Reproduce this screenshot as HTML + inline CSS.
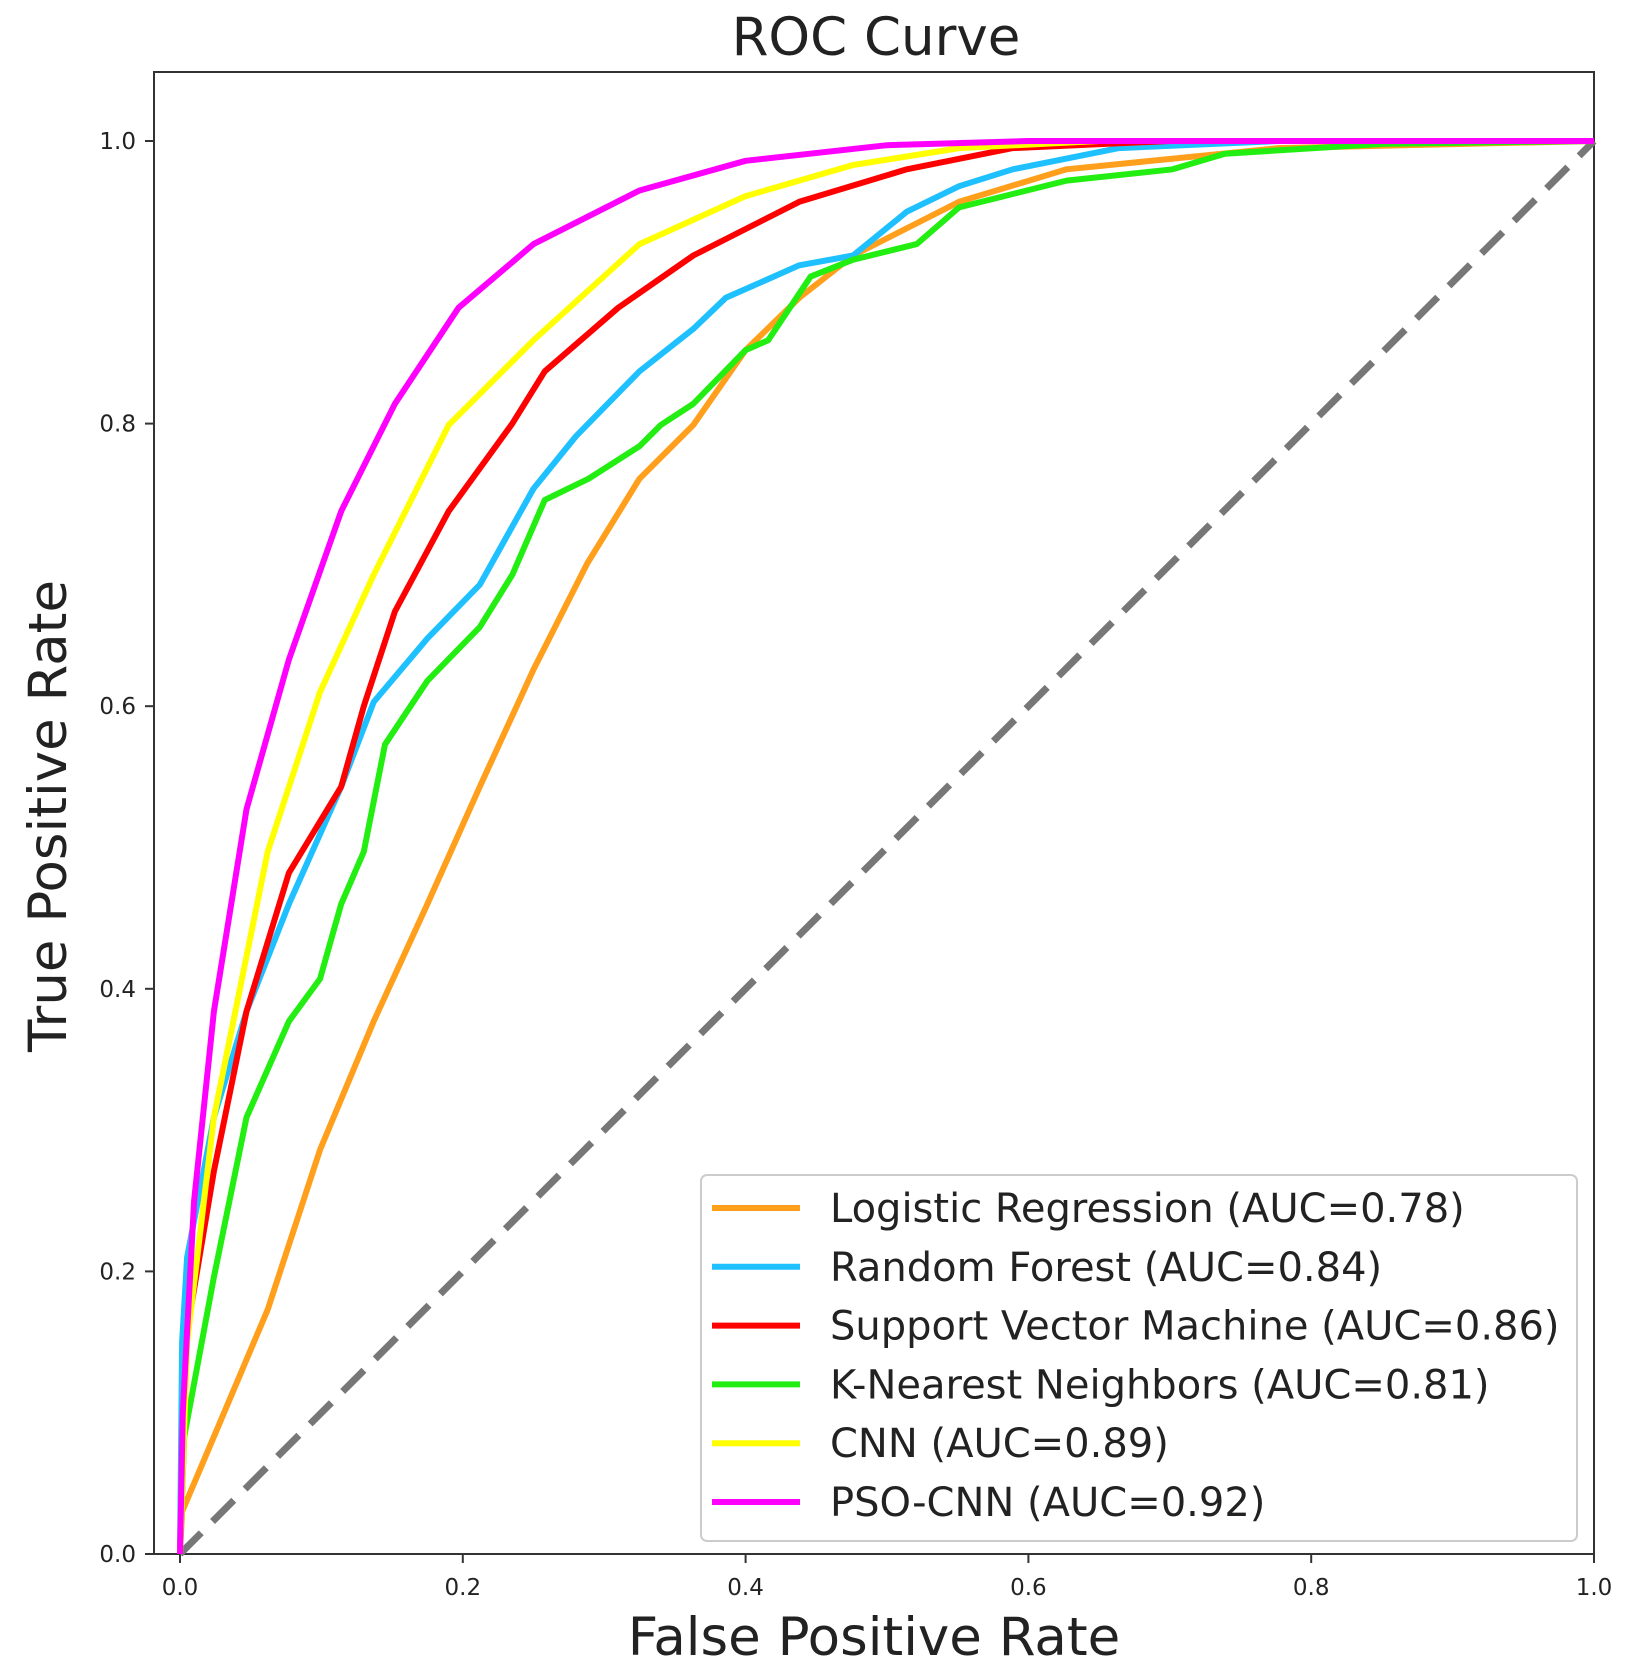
<!DOCTYPE html>
<html><head><meta charset="utf-8"><style>
body{margin:0;background:#fff}
svg text{font-family:"DejaVu Sans","Liberation Sans",sans-serif;fill:#222}
</style></head><body>
<svg id="chart" width="1635" height="1670" viewBox="0 0 1635 1670" xmlns="http://www.w3.org/2000/svg">
<rect width="1635" height="1670" fill="#fff"/>
<text x="876" y="55" font-size="53" text-anchor="middle">ROC Curve</text>
<rect x="154" y="72" width="1440" height="1482" fill="none" stroke="#333" stroke-width="2"/>
<g id="ticks"></g>
<line x1="180" y1="1554" x2="1594" y2="141" stroke="#777" stroke-width="7" stroke-dasharray="30,16"/>
<g id="series"></g>
<text x="874" y="1655" font-size="53" text-anchor="middle">False Positive Rate</text>
<text transform="translate(66,816) rotate(-90)" font-size="53" text-anchor="middle">True Positive Rate</text>
<g id="legend">
<rect x="701" y="1175" width="876" height="366" rx="6" fill="#fff" fill-opacity="0.85" stroke="#ccc" stroke-width="2"/>
</g>
</svg>
<script>
const tickValues=[0,0.2,0.4,0.6,0.8,1.0];
const tickLabels=["0.0","0.2","0.4","0.6","0.8","1.0"];
const seriesNames=["Logistic Regression (AUC=0.78)","Random Forest (AUC=0.84)","Support Vector Machine (AUC=0.86)","K-Nearest Neighbors (AUC=0.81)","CNN (AUC=0.89)","PSO-CNN (AUC=0.92)"];
const seriesColors=["#ff9f1c","#1ec0ff","#ff0000","#22ee11","#ffff00","#ff00ff"];
const lrFpr=[0,0.0015,0.024,0.062,0.099,0.137,0.175,0.212,0.25,0.288,0.325,0.363,0.4,0.438,0.476,0.551,0.627,0.777,1];
const lrTpr=[0,0.03,0.083,0.173,0.286,0.377,0.46,0.543,0.626,0.701,0.761,0.799,0.852,0.889,0.919,0.957,0.98,0.995,1];
const rfFpr=[0,0.0015,0.005,0.024,0.047,0.077,0.114,0.137,0.175,0.212,0.25,0.28,0.325,0.363,0.386,0.438,0.476,0.514,0.551,0.589,0.664,0.777,1];
const rfTpr=[0,0.15,0.21,0.309,0.384,0.46,0.543,0.603,0.648,0.686,0.754,0.791,0.837,0.867,0.889,0.912,0.919,0.95,0.968,0.98,0.995,1,1];
const svmFpr=[0,0.005,0.024,0.047,0.077,0.114,0.13,0.152,0.19,0.235,0.258,0.31,0.363,0.438,0.514,0.589,0.7,1];
const svmTpr=[0,0.158,0.271,0.384,0.482,0.543,0.6,0.667,0.738,0.8,0.837,0.882,0.919,0.957,0.98,0.995,1,1];
const knnFpr=[0,0.003,0.024,0.047,0.077,0.099,0.114,0.13,0.145,0.175,0.212,0.235,0.258,0.289,0.325,0.34,0.363,0.4,0.416,0.446,0.476,0.521,0.551,0.627,0.702,0.739,0.852,1];
const knnTpr=[0,0.083,0.196,0.309,0.377,0.407,0.46,0.497,0.573,0.618,0.656,0.693,0.746,0.761,0.784,0.799,0.814,0.852,0.859,0.904,0.916,0.927,0.953,0.972,0.98,0.991,0.998,1];
const cnnFpr=[0,0.005,0.024,0.062,0.099,0.137,0.19,0.25,0.325,0.4,0.476,0.551,0.65,1];
const cnnTpr=[0,0.15,0.309,0.497,0.61,0.693,0.799,0.859,0.927,0.961,0.983,0.995,1,1];
const psoFpr=[0,0.002,0.01,0.024,0.047,0.077,0.114,0.152,0.197,0.25,0.325,0.4,0.5,0.6,1];
const psoTpr=[0,0.1,0.25,0.384,0.527,0.633,0.738,0.814,0.882,0.927,0.965,0.986,0.997,1,1];

const NS="http://www.w3.org/2000/svg";
const xs=v=>180+v*1414, ys=v=>1554-v*1413;
const ticks=document.getElementById('ticks');
tickValues.forEach((v,i)=>{
  const tx=document.createElementNS(NS,'line');
  tx.setAttribute('x1',xs(v));tx.setAttribute('x2',xs(v));tx.setAttribute('y1',1554);tx.setAttribute('y2',1563);tx.setAttribute('stroke','#333');tx.setAttribute('stroke-width','2');
  
  
  ticks.appendChild(tx);
  const lx=document.createElementNS(NS,'text');
  lx.setAttribute('x',xs(v));lx.setAttribute('y',1595);lx.setAttribute('font-size','23');lx.setAttribute('text-anchor','middle');lx.textContent=tickLabels[i];
  
  
  ticks.appendChild(lx);
  const ty=document.createElementNS(NS,'line');
  ty.setAttribute('x1',145);ty.setAttribute('x2',154);ty.setAttribute('y1',ys(v));ty.setAttribute('y2',ys(v));ty.setAttribute('stroke','#333');ty.setAttribute('stroke-width','2');
  
  
  ticks.appendChild(ty);
  const ly=document.createElementNS(NS,'text');
  ly.setAttribute('x',136);ly.setAttribute('y',ys(v)+8);ly.setAttribute('font-size','23');ly.setAttribute('text-anchor','end');ly.textContent=tickLabels[i];
  
  
  ticks.appendChild(ly);
});
const allF=[lrFpr,rfFpr,svmFpr,knnFpr,cnnFpr,psoFpr], allT=[lrTpr,rfTpr,svmTpr,knnTpr,cnnTpr,psoTpr];
const keys=["logistic-regression","random-forest","svm","knn","cnn","pso-cnn"];
const sg=document.getElementById('series');
allF.forEach((f,i)=>{
  const p=document.createElementNS(NS,'polyline');
  p.setAttribute('points',f.map((x,j)=>xs(x).toFixed(1)+','+ys(allT[i][j]).toFixed(1)).join(' '));
  p.setAttribute('fill','none');p.setAttribute('stroke',seriesColors[i]);p.setAttribute('stroke-width','6');p.setAttribute('stroke-linejoin','round');
  
  
  sg.appendChild(p);
});
const lg=document.getElementById('legend');
seriesNames.forEach((n,i)=>{
  const y=1208+i*58.8;
  const l=document.createElementNS(NS,'line');
  l.setAttribute('x1',712);l.setAttribute('x2',800);l.setAttribute('y1',y);l.setAttribute('y2',y);l.setAttribute('stroke',seriesColors[i]);l.setAttribute('stroke-width','6');
  
  
  lg.appendChild(l);
  const t=document.createElementNS(NS,'text');
  t.setAttribute('x',830);t.setAttribute('y',y+14);t.setAttribute('font-size','40');t.textContent=n;
  
  
  lg.appendChild(t);
});
</script>
</body></html>
